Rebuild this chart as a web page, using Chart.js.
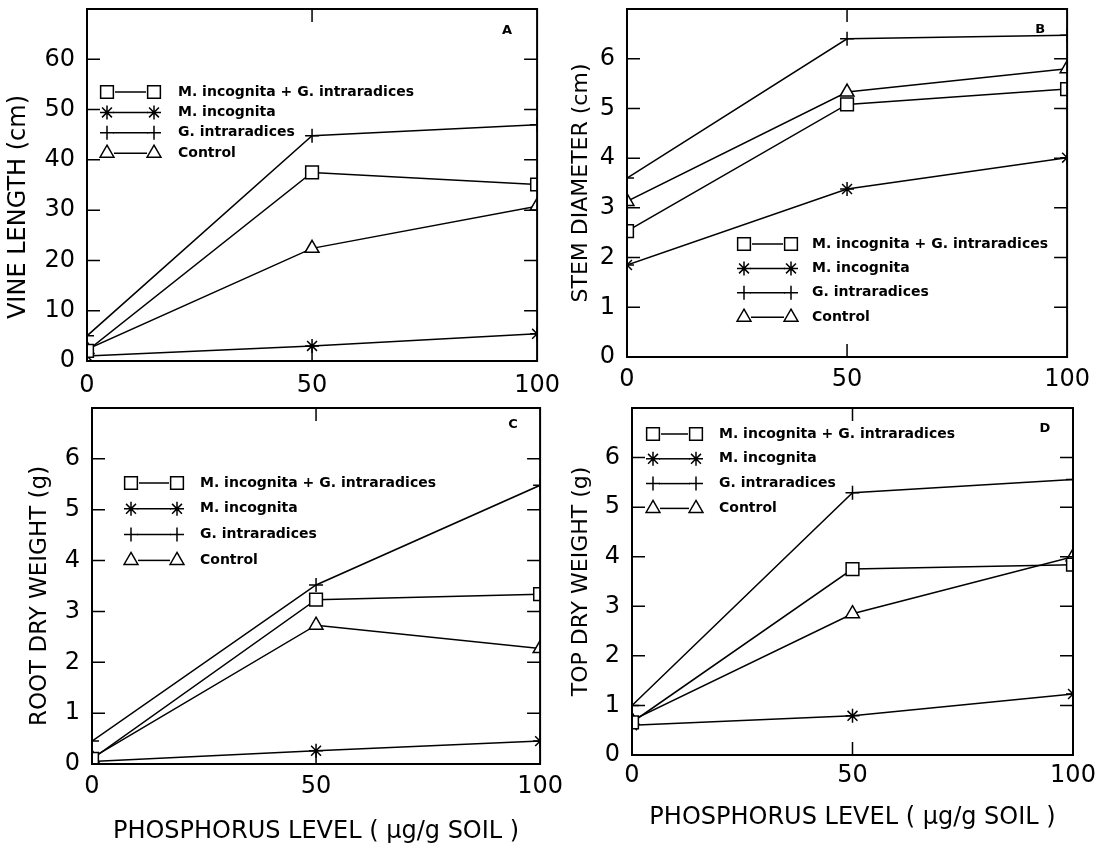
<!DOCTYPE html>
<html>
<head>
<meta charset="utf-8">
<script src="https://cdn.jsdelivr.net/npm/chart.js@4.4.1/dist/chart.umd.min.js"></script>
<style>
  html, body { margin: 0; padding: 0; background: #fff; }
  body { width: 1113px; height: 848px; position: relative; overflow: hidden; }
  canvas { position: absolute; }
</style>
</head>
<body>
<canvas id="panelA"></canvas>
<canvas id="panelB"></canvas>
<canvas id="panelC"></canvas>
<canvas id="panelD"></canvas>
<script>
// phosphorus level (ug/g soil) on every x axis
const phosphorus = [0, 50, 100];
const treatments = ['M. incognita + G. intraradices', 'M. incognita', 'G. intraradices', 'Control'];

// A - vine length (cm)
const vineMiGi = [2.0, 37.5, 35.1];
const vineMi = [1.0, 3.0, 5.4];
const vineGi = [5.0, 44.8, 47.0];
const vineControl = [2.3, 22.4, 30.8];

// B - stem diameter (cm)
const stemMiGi = [2.53, 5.08, 5.39];
const stemMi = [1.85, 3.38, 4.01];
const stemGi = [3.6, 6.4, 6.47];
const stemControl = [3.13, 5.33, 5.8];

// C - root dry weight (g)
const rootMiGi = [0.1, 3.23, 3.34];
const rootMi = [0.05, 0.26, 0.45];
const rootGi = [0.45, 3.52, 5.48];
const rootControl = [0.12, 2.73, 2.27];

// D - top dry weight (g)
const topMiGi = [0.66, 3.75, 3.84];
const topMi = [0.6, 0.79, 1.23];
const topGi = [1.0, 5.29, 5.56];
const topControl = [0.7, 2.85, 4.0];

Chart.defaults.font.family = 'DejaVu Sans';
Chart.defaults.color = '#000';

const markers = [
  { pointStyle: 'rect', radius: 9 },
  { pointStyle: 'star', radius: 7 },
  { pointStyle: 'cross', radius: 7 },
  { pointStyle: 'triangle', radius: 8 }
];

// box around the plot, inward ticks on all four sides, panel letter
const framePlugin = {
  id: 'frame',
  afterDatasetsDraw(chart, args, o) {
    const { ctx, chartArea: a, scales: { x, y } } = chart;
    ctx.save();
    ctx.strokeStyle = '#000';
    ctx.lineWidth = 1.5;
    ctx.beginPath();
    y.ticks.forEach(t => {
      if (t.value <= y.min || t.value >= y.max) return;
      const py = y.getPixelForValue(t.value);
      ctx.moveTo(a.left, py); ctx.lineTo(a.left + 13, py);
      ctx.moveTo(a.right, py); ctx.lineTo(a.right - 13, py);
    });
    x.ticks.forEach(t => {
      if (t.value <= x.min || t.value >= x.max) return;
      const px = x.getPixelForValue(t.value);
      ctx.moveTo(px, a.bottom); ctx.lineTo(px, a.bottom - 13);
      ctx.moveTo(px, a.top); ctx.lineTo(px, a.top + 13);
    });
    ctx.stroke();
    ctx.lineWidth = 2;
    ctx.strokeRect(a.left, a.top, a.width, a.height);
    ctx.fillStyle = '#000';
    ctx.font = 'bold 13px "DejaVu Sans"';
    ctx.textAlign = 'center';
    ctx.textBaseline = 'middle';
    ctx.fillText(o.letter, a.right - o.letterDx, a.top + o.letterDy);
    ctx.restore();
  }
};

// rotated y title, placed a little off the plot centre like the original
const sideTitlePlugin = {
  id: 'sideTitle',
  afterDraw(chart, args, o) {
    const { ctx, chartArea: a } = chart;
    ctx.save();
    ctx.translate(o.x, (a.top + a.bottom) / 2 + o.shift);
    ctx.rotate(-Math.PI / 2);
    ctx.fillStyle = '#000';
    ctx.font = o.size + 'px "DejaVu Sans"';
    ctx.textAlign = 'center';
    ctx.textBaseline = 'middle';
    ctx.fillText(o.text, 0, 0);
    ctx.restore();
  }
};

// key drawn as  marker---marker  label
const keyPlugin = {
  id: 'key',
  afterDraw(chart, args, o) {
    const { ctx, chartArea: a } = chart;
    ctx.save();
    chart.data.datasets.forEach((ds, i) => {
      const yy = a.top + o.top + i * o.gap;
      const x1 = a.left + o.m1, x2 = a.left + o.m2;
      const r = ds.pointRadius;
      ctx.strokeStyle = '#000';
      ctx.lineWidth = 1.5;
      ctx.beginPath();
      ctx.moveTo(x1 + r - 1, yy);
      ctx.lineTo(x2 - r + 1, yy);
      ctx.stroke();
      [x1, x2].forEach(px => {
        ctx.fillStyle = '#fff';
        Chart.helpers.drawPoint(ctx, { pointStyle: ds.pointStyle, radius: r, borderWidth: 1.5, rotation: 0 }, px, yy);
      });
      ctx.fillStyle = '#000';
      ctx.font = 'bold 14px "DejaVu Sans"';
      ctx.textAlign = 'left';
      ctx.textBaseline = 'middle';
      ctx.fillText(ds.label, a.left + o.text, yy);
    });
    ctx.restore();
  }
};

function makePanel(id, box, series, yMax, yStep, sideTitle, xTitle, key, frame) {
  const canvas = document.getElementById(id);
  canvas.width = box.width;
  canvas.height = box.height;
  canvas.style.left = box.left + 'px';
  canvas.style.top = box.top + 'px';

  const datasets = series.map((values, i) => ({
    label: treatments[i],
    data: phosphorus.map((p, j) => ({ x: p, y: values[j] })),
    borderColor: '#000',
    borderWidth: 1.5,
    tension: 0,
    pointStyle: markers[i].pointStyle,
    pointRadius: markers[i].radius,
    pointBorderColor: '#000',
    pointBackgroundColor: '#fff',
    pointBorderWidth: 1.5,
    clip: 0
  }));

  return new Chart(canvas.getContext('2d'), {
    type: 'line',
    data: { datasets },
    options: {
      responsive: false,
      animation: false,
      events: [],
      layout: { padding: { top: 28, right: 30, left: 0, bottom: 0 } },
      plugins: {
        legend: { display: false },
        tooltip: { enabled: false },
        key,
        frame,
        sideTitle
      },
      scales: {
        x: {
          type: 'linear',
          min: 0,
          max: 100,
          grid: { display: false, drawTicks: false },
          border: { display: false },
          ticks: { stepSize: 50, padding: box.xPad, maxRotation: 0, font: { size: 24 } },
          title: { display: !!xTitle, text: xTitle, padding: 0, font: { size: 24, lineHeight: 1 } },
          afterFit: s => { s.height = box.xAxisHeight; }
        },
        y: {
          min: 0,
          max: yMax,
          grid: { display: false, drawTicks: false },
          border: { display: false },
          ticks: {
            stepSize: yStep,
            padding: 12,
            font: { size: 24 },
            callback: v => (v >= yMax ? '' : v)
          },
          afterFit: s => { s.width = box.yAxisWidth; }
        }
      }
    },
    plugins: [framePlugin, sideTitlePlugin, keyPlugin]
  });
}

const xTitle = 'PHOSPHORUS LEVEL ( \u03bcg/g SOIL )';

makePanel('panelA',
  { left: 3, top: -19, width: 567, height: 420, yAxisWidth: 84, xAxisHeight: 40, xPad: 10 },
  [vineMiGi, vineMi, vineGi, vineControl], 70, 10,
  { text: 'VINE LENGTH (cm)', x: 16, shift: 22, size: 24 }, '',
  { m1: 20, m2: 67, text: 91, top: 83, gap: 20.4 },
  { letter: 'A', letterDx: 30, letterDy: 22 });

makePanel('panelB',
  { left: 565, top: -19, width: 533, height: 416, yAxisWidth: 62, xAxisHeight: 40, xPad: 8 },
  [stemMiGi, stemMi, stemGi, stemControl], 7, 1,
  { text: 'STEM DIAMETER (cm)', x: 16, shift: 0, size: 22 }, '',
  { m1: 117, m2: 164, text: 185, top: 235, gap: 24.4 },
  { letter: 'B', letterDx: 27, letterDy: 21 });

makePanel('panelC',
  { left: 20, top: 380, width: 551, height: 464, yAxisWidth: 72, xAxisHeight: 80, xPad: 8 },
  [rootMiGi, rootMi, rootGi, rootControl], 7, 1,
  { text: 'ROOT DRY WEIGHT (g)', x: 20, shift: 10, size: 23 }, xTitle,
  { m1: 39, m2: 85, text: 108, top: 75, gap: 25.8 },
  { letter: 'C', letterDx: 27, letterDy: 17 });

makePanel('panelD',
  { left: 565, top: 380, width: 538, height: 450, yAxisWidth: 67, xAxisHeight: 75, xPad: 6 },
  [topMiGi, topMi, topGi, topControl], 7, 1,
  { text: 'TOP DRY WEIGHT (g)', x: 16, shift: 0, size: 22 }, xTitle,
  { m1: 21, m2: 64, text: 87, top: 26, gap: 24.8 },
  { letter: 'D', letterDx: 28, letterDy: 21 });
</script>
</body>
</html>
